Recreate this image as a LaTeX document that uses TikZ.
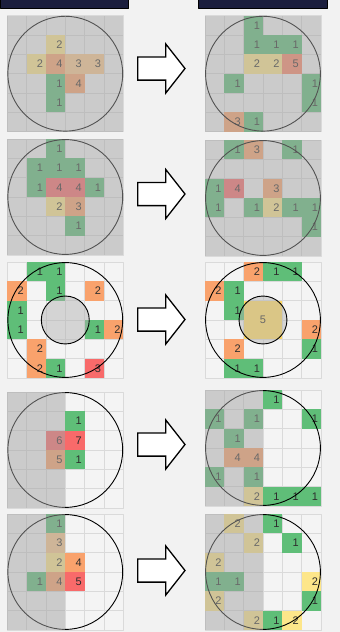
\documentclass[tikz,border=0pt]{standalone}
\usepackage{fontspec}
\setsansfont{Liberation Sans}
\usetikzlibrary{positioning}

% one coloured cell: column, row, colour, value
\newcommand{\cell}[4]{%
	\fill[#3] (#1,#2) rectangle ++(1,1);
	\node[num, anchor=east] (\gid-#1-#2) at (#1+0.86,#2+0.5) {#4};}
% the 6x6 background of a grid
\newcommand{\gridbase}{%
	\foreach \c in {0,...,5}
		\foreach \r in {0,...,5}
			\draw[cellbase] (\c,\r) rectangle ++(1,1);}

\begin{document}
\begin{tikzpicture}[x=1pt, y=-1pt, line cap=round, line join=round]
	
	% Colors
	\definecolor{PageBg}{RGB}{242,242,242}
	\definecolor{CellBg}{RGB}{244,244,244}
	\definecolor{CellLine}{RGB}{218,218,218}
	\definecolor{HeadNavy}{RGB}{27,30,61}
	\definecolor{MaskGray}{RGB}{164,164,164}
	\definecolor{HoleGray}{RGB}{175,175,175}
	\definecolor{NumInk}{RGB}{45,45,45}
	\definecolor{CGreen}{RGB}{95,190,120}
	\definecolor{CYellow}{RGB}{253,230,138}
	\definecolor{CLOrange}{RGB}{250,200,140}
	\definecolor{COrange}{RGB}{249,162,108}
	\definecolor{CSalmon}{RGB}{249,135,105}
	\definecolor{CRed}{RGB}{248,106,106}
	\definecolor{CGold}{RGB}{255,217,102}
	
	% Styles
	\tikzset{
		cellbase/.style={fill=CellBg, draw=CellLine, line width=0.8},
		num/.style={font=\sffamily\fontsize{11}{13}\selectfont, text=NumInk, inner sep=0pt},
		ring/.style={draw=black, line width=0.9},
		hole/.style={ring, fill=HoleGray, fill opacity=0.45},
		mask/.style={fill=MaskGray, fill opacity=0.5},
		header/.style={draw=black, fill=HeadNavy, line width=0.7, minimum height=8.5,
			inner sep=0pt, anchor=north west},
		gridbox/.style={shift={#1}, x=19.33pt, y=-19.33pt},
		blockarrow/.pic={
			\draw[line width=1.3, line join=miter, fill=white]
			(-23.6,-11.6) -- (4.4,-11.6) -- (4.4,-24.6) -- (23.7,0)
			-- (4.4,24.6) -- (4.4,11.6) -- (-23.6,11.6) -- cycle;}
	}
	
	% Page
	\fill[PageBg] (0,0) rectangle (340,632);
	\useasboundingbox (0,0) rectangle (340,632);
	
	% Headers
	\node[header, minimum width=128] (hdrL) at (0,-1) {};
	\node[header, minimum width=129] (hdrR) at (198,-1) {};
	
	% Row 1
	\begin{scope}[gridbox={(7.3,15.7)}]
		\def\gid{aL}
		\gridbase
		\cell{2}{1}{CYellow}{2}
		\cell{1}{2}{CYellow}{2}
		\cell{2}{2}{COrange}{4}
		\cell{3}{2}{CLOrange}{3}
		\cell{4}{2}{CLOrange}{3}
		\cell{2}{3}{CGreen}{1}
		\cell{3}{3}{COrange}{4}
		\cell{2}{4}{CGreen}{1}
		\draw[ring] (3,3) circle[radius=2.97];
		\fill[mask] (0,0) rectangle (6,6);
	\end{scope}
	\pic (arrA) at (161.3,68.5) {blockarrow};
	\begin{scope}[gridbox={(205,15.7)}]
		\def\gid{aR}
		\gridbase
		\cell{2}{0}{CGreen}{1}
		\cell{2}{1}{CGreen}{1}
		\cell{3}{1}{CGreen}{1}
		\cell{4}{1}{CGreen}{1}
		\cell{2}{2}{CYellow}{2}
		\cell{3}{2}{CYellow}{2}
		\cell{4}{2}{CSalmon}{5}
		\cell{1}{3}{CGreen}{1}
		\cell{5}{3}{CGreen}{1}
		\cell{5}{4}{CGreen}{1}
		\cell{1}{5}{COrange}{3}
		\cell{2}{5}{CGreen}{1}
		\draw[ring] (3,3) circle[radius=2.97];
		\fill[mask] (0,0) rectangle (6,6);
	\end{scope}
	
	% Row 2
	\begin{scope}[gridbox={(7.3,139)}]
		\def\gid{bL}
		\gridbase
		\cell{2}{0}{CGreen}{1}
		\cell{1}{1}{CGreen}{1}
		\cell{2}{1}{CGreen}{1}
		\cell{3}{1}{CGreen}{1}
		\cell{1}{2}{CGreen}{1}
		\cell{2}{2}{CRed}{4}
		\cell{3}{2}{CRed}{4}
		\cell{4}{2}{CGreen}{1}
		\cell{2}{3}{CYellow}{2}
		\cell{3}{3}{COrange}{3}
		\cell{3}{4}{CGreen}{1}
		\draw[ring] (3,3) circle[radius=2.97];
		\fill[mask] (0,0) rectangle (6,6);
	\end{scope}
	\pic (arrB) at (161.3,194) {blockarrow};
	\begin{scope}[gridbox={(205,140)}]
		\def\gid{bR}
		\gridbase
		\cell{1}{0}{CGreen}{1}
		\cell{2}{0}{COrange}{3}
		\cell{4}{0}{CGreen}{1}
		\cell{0}{2}{CGreen}{1}
		\cell{1}{2}{CRed}{4}
		\cell{3}{2}{COrange}{3}
		\cell{0}{3}{CGreen}{1}
		\cell{2}{3}{CGreen}{1}
		\cell{3}{3}{CYellow}{2}
		\cell{4}{3}{CGreen}{1}
		\cell{5}{3}{CGreen}{1}
		\cell{5}{4}{CGreen}{1}
		\draw[ring] (3,3) circle[radius=2.97];
		\fill[mask] (0,0) rectangle (6,6);
	\end{scope}
	
	% Row 3
	\begin{scope}[gridbox={(7.3,262)}]
		\def\gid{cL}
		\gridbase
		\cell{1}{0}{CGreen}{1}
		\cell{2}{0}{CGreen}{1}
		\cell{0}{1}{COrange}{2}
		\cell{2}{1}{CGreen}{1}
		\cell{4}{1}{COrange}{2}
		\cell{0}{2}{CGreen}{1}
		\cell{0}{3}{CGreen}{1}
		\cell{4}{3}{CGreen}{1}
		\cell{5}{3}{COrange}{2}
		\cell{1}{4}{COrange}{2}
		\cell{1}{5}{COrange}{2}
		\cell{2}{5}{CGreen}{1}
		\cell{4}{5}{CRed}{3}
		\draw[ring] (3,3) circle[radius=2.97];
		\draw[hole] (3,3) circle[radius=1.24];
	\end{scope}
	\pic (arrC) at (161.3,319.5) {blockarrow};
	\begin{scope}[gridbox={(205,262)}]
		\def\gid{cR}
		\gridbase
		\cell{2}{0}{COrange}{2}
		\cell{3}{0}{CGreen}{1}
		\cell{4}{0}{CGreen}{1}
		\cell{0}{1}{COrange}{2}
		\cell{1}{1}{CGreen}{1}
		\cell{1}{2}{CGreen}{1}
		\cell{5}{3}{COrange}{2}
		\cell{1}{4}{COrange}{2}
		\cell{5}{4}{CGreen}{1}
		\cell{1}{5}{CGreen}{1}
		\cell{2}{5}{CGreen}{1}
		\fill[CGold] (2,2) rectangle (4,4);
		\node[num] (cR-core) at (3,3) {5};
		\draw[ring] (3,3) circle[radius=2.97];
		\draw[hole] (3,3) circle[radius=1.24];
	\end{scope}
	
	% Row 4
	\begin{scope}[gridbox={(7.3,392)}]
		\def\gid{dL}
		\gridbase
		\cell{3}{1}{CGreen}{1}
		\cell{2}{2}{CRed}{6}
		\cell{3}{2}{CRed}{7}
		\cell{2}{3}{COrange}{5}
		\cell{3}{3}{CGreen}{1}
		\draw[ring] (3,3) circle[radius=2.97];
		\fill[mask] (0,0) rectangle (3,6);
	\end{scope}
	\pic (arrD) at (161.3,444.5) {blockarrow};
	\begin{scope}[gridbox={(205,390)}]
		\def\gid{dR}
		\gridbase
		\cell{3}{0}{CGreen}{1}
		\cell{0}{1}{CGreen}{1}
		\cell{2}{1}{CGreen}{1}
		\cell{5}{1}{CGreen}{1}
		\cell{1}{2}{CGreen}{1}
		\cell{1}{3}{COrange}{4}
		\cell{2}{3}{COrange}{4}
		\cell{0}{4}{CGreen}{1}
		\cell{2}{4}{CGreen}{1}
		\cell{2}{5}{CYellow}{2}
		\cell{3}{5}{CGreen}{1}
		\cell{4}{5}{CGreen}{1}
		\cell{5}{5}{CGreen}{1}
		\draw[ring] (3,3) circle[radius=2.97];
		\fill[mask] (0,0) rectangle (3,6);
	\end{scope}
	
	% Row 5
	\begin{scope}[gridbox={(7.3,514)}]
		\def\gid{eL}
		\gridbase
		\cell{2}{0}{CGreen}{1}
		\cell{2}{1}{CLOrange}{3}
		\cell{2}{2}{CYellow}{2}
		\cell{3}{2}{COrange}{4}
		\cell{1}{3}{CGreen}{1}
		\cell{2}{3}{COrange}{4}
		\cell{3}{3}{CRed}{5}
		\draw[ring] (3,3) circle[radius=2.97];
		\fill[mask] (0,0) rectangle (3,6);
	\end{scope}
	\pic (arrE) at (161.3,570.5) {blockarrow};
	\begin{scope}[gridbox={(205,514)}]
		\def\gid{eR}
		\gridbase
		\cell{1}{0}{CYellow}{2}
		\cell{3}{0}{CGreen}{1}
		\cell{2}{1}{CYellow}{2}
		\cell{4}{1}{CGreen}{1}
		\cell{0}{2}{CYellow}{2}
		\cell{0}{3}{CGreen}{1}
		\cell{1}{3}{CGreen}{1}
		\cell{5}{3}{CYellow}{2}
		\cell{0}{4}{CYellow}{2}
		\cell{5}{4}{CGreen}{1}
		\cell{2}{5}{CYellow}{2}
		\cell{3}{5}{CGreen}{1}
		\cell{4}{5}{CYellow}{2}
		\draw[ring] (3,3) circle[radius=2.97];
		\fill[mask] (0,0) rectangle (3,6);
	\end{scope}
	
\end{tikzpicture}
\end{document}
